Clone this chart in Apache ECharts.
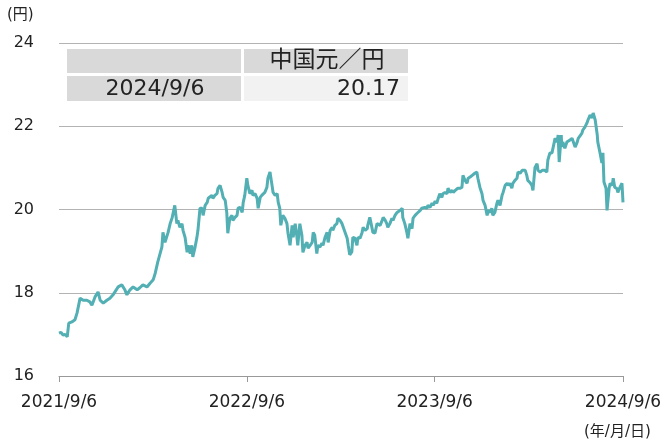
<!DOCTYPE html>
<html>
<head>
<meta charset="utf-8">
<script src="https://cdn.jsdelivr.net/npm/echarts@6/dist/echarts.min.js"></script>
<style>
  html, body { margin: 0; padding: 0; background: #fff; }
  #main { width: 668px; height: 441px; }
</style>
</head>
<body>
<div id="main"></div>
<script>
// 中国元／円 レート (2021/9/6 起点の経過日数と値)
const dayOffsets = [
  0,4,8,12,16,19,25,31,35,41,47,54,60,64,70,76,80,86,93,99,105,115,122,128,132,138,144,152,157,163,171,177,183,187,
  192,200,202,206,212,216,220,225,229,231,235,239,241,245,249,251,255,258,260,264,268,270,274,278,280,284,288,290,293,297,299,303,307,309,313,317,319,323,326,328,332,336,338,342,346,348,352,356,358,361,365,
  367,371,375,377,381,385,387,391,394,396,400,404,406,410,414,416,420,424,426,429,431,435,439,443,445,449,453,455,459,462,464,468,472,474,478,482,484,488,492,494,497,501,503,507,511,513,517,521,523,527,531,532,536,540,542,546,550,
  552,556,560,562,565,569,571,575,579,581,585,589,591,595,599,600,604,608,610,614,618,620,624,628,630,634,637,639,643,647,649,653,657,659,663,667,668,672,676,678,682,686,688,692,696,698,702,705,707,711,715,717,721,725,727,
  731,734,737,740,744,746,750,754,756,760,764,766,770,773,775,779,783,785,789,793,795,799,803,805,808,812,814,818,822,824,828,832,834,838,841,843,847,851,853,857,861,863,867,871,873,876,880,882,886,890,892,896,900,902,906,909,911,915,919,921,925,
  929,931,935,939,941,944,948,950,954,958,960,964,968,970,972,976,977,979,983,987,989,993,997,999,1003,1007,1009,1012,1016,1018,1022,1026,1028,1032,1036,1038,1042,1046,1047,1051,1055,1057,1059,1063,1065,1069,1071,1075,1077,1080,1084,1086,1090,1094,1096
];
const cnyJpy = [
  17.03,17.05,16.98,17.00,16.94,17.27,17.30,17.35,17.51,17.87,17.82,17.82,17.78,17.70,17.90,18.02,17.82,17.75,17.82,17.87,17.95,18.14,18.19,18.07,17.95,18.07,18.14,18.07,18.12,18.19,18.14,18.23,18.31,18.47,
  18.74,19.10,19.45,19.21,19.45,19.66,19.81,20.10,19.66,19.74,19.57,19.66,19.50,19.33,18.97,19.14,18.94,19.14,18.86,19.07,19.33,19.50,20.03,20.03,19.86,20.10,20.17,20.27,20.27,20.34,20.27,20.34,20.38,20.51,20.58,20.41,20.29,20.22,19.93,19.43,19.79,19.86,19.74,19.81,19.86,20.03,20.05,19.93,20.17,20.34,20.75,
  20.58,20.38,20.46,20.34,20.38,20.27,20.03,20.29,20.34,20.38,20.41,20.53,20.75,20.90,20.58,20.41,20.34,20.38,20.17,20.03,19.62,19.86,19.79,19.66,19.43,19.14,19.62,19.33,19.66,19.38,19.14,19.66,19.38,18.97,19.14,19.21,19.07,19.14,19.21,19.45,19.38,18.94,19.14,19.10,19.19,19.14,19.33,19.45,19.21,19.50,19.57,19.50,19.62,19.66,19.79,19.74,19.66,
  19.62,19.45,19.31,19.14,18.91,18.98,19.33,19.31,19.14,19.33,19.31,19.45,19.57,19.50,19.54,19.62,19.81,19.57,19.45,19.43,19.66,19.69,19.62,19.74,19.81,19.74,19.66,19.57,19.66,19.79,19.74,19.86,19.93,19.91,19.98,20.03,19.81,19.66,19.45,19.31,19.66,19.54,19.79,19.86,19.91,19.93,19.98,20.03,20.03,20.05,20.03,20.10,20.05,20.15,20.10,
  20.20,20.15,20.27,20.38,20.29,20.38,20.41,20.38,20.51,20.41,20.46,20.41,20.46,20.49,20.51,20.51,20.53,20.82,20.70,20.63,20.75,20.78,20.82,20.78,20.87,20.90,20.75,20.53,20.38,20.22,20.10,19.86,19.98,19.93,20.03,19.86,19.93,20.15,20.22,20.10,20.34,20.41,20.58,20.63,20.58,20.63,20.51,20.63,20.70,20.75,20.90,20.87,20.94,20.90,20.94,20.82,20.70,20.65,20.58,20.46,21.01,
  21.10,20.94,20.90,20.94,20.90,20.94,20.90,21.19,21.36,21.36,21.38,21.71,21.62,21.79,21.14,21.79,21.50,21.62,21.47,21.62,21.59,21.67,21.71,21.71,21.50,21.62,21.71,21.74,21.83,21.91,21.98,22.08,22.15,22.27,22.20,22.32,22.15,21.79,21.62,21.38,21.12,21.36,20.66,20.51,19.98,20.51,20.63,20.58,20.75,20.53,20.51,20.41,20.53,20.63,20.17
];
// x軸の目盛り (経過日数) とラベル
const tickDays = [0, 365, 730, 1096];
const tickLabels = ['2021/9/6', '2022/9/6', '2023/9/6', '2024/9/6'];
// 左上の表
const tableDate = '2024/9/6';
const tableHead = '中国元／円';
const tableValue = '20.17';

const FONT = '"DejaVu Sans", "Noto Sans CJK JP", sans-serif';
const lineData = dayOffsets.map((d, i) => [d, cnyJpy[i]]);

var myChart = echarts.init(document.getElementById('main'), null, { renderer: 'canvas' });
myChart.setOption({
  animation: false,
  backgroundColor: '#fff',
  grid: { left: 59, right: 45, top: 43, bottom: 65 },
  xAxis: {
    type: 'value',
    min: 0,
    max: 1096,
    axisLine: { show: true, lineStyle: { color: '#999', width: 1 } },
    axisTick: { show: true, length: 6, customValues: tickDays, lineStyle: { color: '#999' } },
    axisLabel: {
      customValues: tickDays,
      margin: 18,
      color: '#222',
      fontSize: 17,
      fontFamily: FONT,
      formatter: function (v) {
        return tickLabels[tickDays.indexOf(v)];
      }
    },
    splitLine: { show: false }
  },
  yAxis: {
    type: 'value',
    min: 16,
    max: 24,
    interval: 2,
    axisLine: { show: false },
    axisTick: { show: false },
    axisLabel: { margin: 25, color: '#222', fontSize: 16, fontFamily: FONT },
    splitLine: { lineStyle: { color: '#b3b3b3', width: 1 } }
  },
  series: [
    {
      type: 'line',
      data: lineData,
      showSymbol: false,
      lineStyle: { color: '#52afb3', width: 3 },
      z: 2
    }
  ],
  graphic: [
    { type: 'text', left: 7, top: 8, style: { text: '(円)', fill: '#222', font: '15px ' + FONT } },
    { type: 'text', left: 584, top: 425, style: { text: '(年/月/日)', fill: '#222', font: '15px ' + FONT } },
    // 表
    { type: 'rect', shape: { x: 67, y: 49, width: 174, height: 24 }, style: { fill: '#d9d9d9' }, z: 10 },
    { type: 'rect', shape: { x: 244, y: 49, width: 164, height: 24 }, style: { fill: '#d9d9d9' }, z: 10 },
    { type: 'rect', shape: { x: 67, y: 76, width: 174, height: 25 }, style: { fill: '#d9d9d9' }, z: 10 },
    { type: 'rect', shape: { x: 244, y: 76, width: 164, height: 25 }, style: { fill: '#f2f2f2' }, z: 10 },
    { type: 'text', z: 11, style: { x: 327, y: 61, text: tableHead, align: 'center', verticalAlign: 'middle', fill: '#222', font: '23px ' + FONT } },
    { type: 'text', z: 11, style: { x: 155, y: 89, text: tableDate, align: 'center', verticalAlign: 'middle', fill: '#222', font: '22px ' + FONT } },
    { type: 'text', z: 11, style: { x: 400, y: 89, text: tableValue, align: 'right', verticalAlign: 'middle', fill: '#222', font: '22px ' + FONT } }
  ]
});
</script>
</body>
</html>
